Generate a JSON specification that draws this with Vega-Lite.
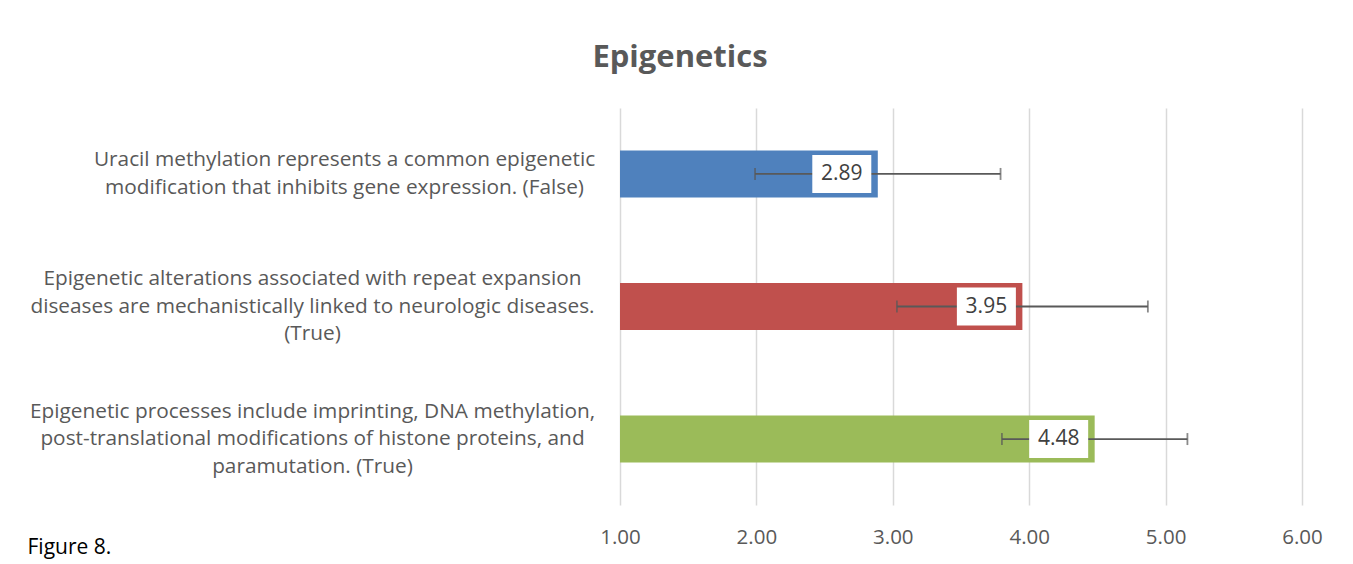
{
  "$schema": "https://vega.github.io/schema/vega-lite/v6.json",
  "width": 682,
  "height": 397,
  "autosize": {"type": "none"},
  "padding": {"left": 620, "top": 108, "right": 51, "bottom": 59},
  "background": "white",
  "config": {"view": {"stroke": null}, "font": "Open Sans"},
  "title": {
    "text": "Epigenetics",
    "font": "Open Sans",
    "fontSize": 31,
    "fontWeight": "bold",
    "color": "#595959",
    "frame": "group",
    "anchor": "middle",
    "dx": -281,
    "baseline": "alphabetic",
    "offset": 10
  },
  "data": {
    "values": [
      {"question": "Uracil methylation represents a common epigenetic\nmodification that inhibits gene expression. (False)", "mean": 2.89, "sd": 0.9, "series": "a"},
      {"question": "Epigenetic alterations associated with repeat expansion\ndiseases are mechanistically linked to neurologic diseases.\n(True)", "mean": 3.95, "sd": 0.92, "series": "b"},
      {"question": "Epigenetic processes include imprinting, DNA methylation,\npost-translational modifications of histone proteins, and\nparamutation. (True)", "mean": 4.48, "sd": 0.68, "series": "c"}
    ]
  },
  "encoding": {
    "y": {
      "field": "question",
      "type": "nominal",
      "sort": null,
      "scale": {"paddingInner": 0.645, "paddingOuter": 0.32},
      "axis": {
        "title": null,
        "domain": false,
        "ticks": false,
        "labelExpr": "split(datum.label, '\\n')",
        "labelAlign": "center",
        "labelBaseline": "middle",
        "labelLineHeight": 27.5,
        "labelFontSize": 20.8,
        "labelColor": "#595959",
        "labelFont": "Open Sans",
        "labelLimit": 0,
        "labelPadding": {"condition": {"test": "indexof(datum.value, 'Uracil') == 0", "value": 276}, "value": 308},
        "labelOffset": {"condition": {"test": "indexof(datum.value, 'Uracil') == 0", "value": -13.5}, "value": -27.5}
      }
    },
    "x": {
      "field": "mean",
      "type": "quantitative",
      "scale": {"domain": [1, 6], "nice": false, "zero": false},
      "axis": {
        "values": [1, 2, 3, 4, 5, 6],
        "format": ".2f",
        "domain": false,
        "ticks": false,
        "grid": true,
        "gridColor": "#D9D9D9",
        "gridWidth": 1.5,
        "labelFlush": false,
        "labelFontSize": 20.5,
        "labelColor": "#595959",
        "labelFont": "Open Sans",
        "labelPadding": 22,
        "title": "Figure 8.",
        "titleFont": "Open Sans",
        "titleFontSize": 21,
        "titleFontWeight": "normal",
        "titleColor": "#000000",
        "titleAnchor": "start",
        "titleAlign": "left",
        "titleBaseline": "alphabetic",
        "titleX": -593,
        "titleY": 48
      }
    }
  },
  "layer": [
    {
      "mark": {"type": "bar"},
      "encoding": {
        "x2": {"datum": 1},
        "color": {
          "field": "series",
          "type": "nominal",
          "scale": {"domain": ["a", "b", "c"], "range": ["#4F81BD", "#C0504D", "#9BBB59"]},
          "legend": null
        }
      }
    },
    {
      "mark": {"type": "errorbar", "ticks": {"size": 12, "thickness": 1.8, "color": "#595959"}, "rule": {"strokeWidth": 1.8, "color": "#595959"}},
      "encoding": {
        "xError": {"field": "sd"}
      }
    },
    {
      "mark": {"type": "point", "shape": "M-1,-0.644L1,-0.644L1,0.644L-1,0.644Z", "size": 3481, "filled": true, "color": "white", "opacity": 1, "xOffset": -36},
      "encoding": {}
    },
    {
      "mark": {"type": "text", "font": "Open Sans", "fontSize": 21, "color": "#404040", "align": "center", "baseline": "middle", "dx": -36},
      "encoding": {
        "text": {"field": "mean", "type": "quantitative", "format": ".2f"}
      }
    }
  ]
}
